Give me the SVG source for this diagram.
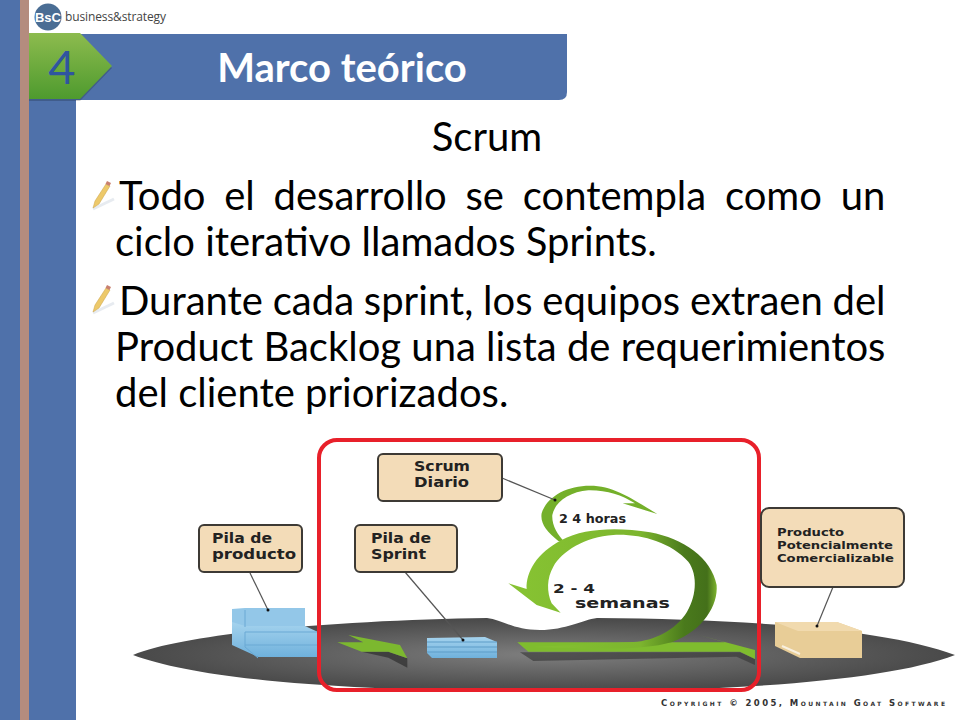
<svg xmlns="http://www.w3.org/2000/svg" width="960" height="720" viewBox="0 0 960 720">
<style>
.body{font-family:Lato,"Open Sans",sans-serif;font-size:40px;fill:#000}
.lbl{font-family:"DejaVu Sans",sans-serif;font-weight:bold;fill:#222}
.box{fill:#f3dcb8;stroke:#3d3a35;stroke-width:2}
.ln{stroke:#555;stroke-width:1.2;fill:none}
.dot{fill:#111}
</style>
<defs>
<linearGradient id="gg" x1="0" y1="0" x2="0" y2="1"><stop offset="0" stop-color="#8dbb4e"/><stop offset="1" stop-color="#4e9a2e"/></linearGradient>
<radialGradient id="floor" cx="0.5" cy="0.5" r="0.55"><stop offset="0" stop-color="#7e7e7e"/><stop offset=".7" stop-color="#555"/><stop offset="1" stop-color="#444"/></radialGradient>
<linearGradient id="big" gradientUnits="userSpaceOnUse" x1="620" y1="0" x2="1190" y2="0"><stop offset="0" stop-color="#86c232"/><stop offset="0.6" stop-color="#7cb52e"/><stop offset="0.83" stop-color="#4a7a1c"/><stop offset="0.95" stop-color="#44701a"/><stop offset="1" stop-color="#7db32f"/></linearGradient>
<linearGradient id="blue" x1="0" y1="0" x2="0" y2="1"><stop offset="0" stop-color="#a5d3ee"/><stop offset="1" stop-color="#6fb1dc"/></linearGradient>
<g id="pencil">
<path d="M1 28 L22 18" stroke="#dde3ea" stroke-width="3" opacity=".7" fill="none"/>
<path d="M1 27 L3 20 L14 3 L18 5 L7 23 Z" fill="#edc96a" stroke="#c9a047" stroke-width=".5"/>
<path d="M13.5 3 L15 0 L19 2 L17.5 5 Z" fill="#c9806f"/>
</g>
</defs>
<rect width="960" height="720" fill="#fff"/>
<g id="sidebar">
<rect x="0" y="0" width="20" height="720" fill="#4f71aa"/>
<rect x="20" y="0" width="9" height="720" fill="#b48c7e"/>
<rect x="29" y="0" width="47" height="720" fill="#4f71aa"/>
<rect x="29" y="0" width="146" height="33" fill="#fff"/>
</g>
<g id="logo">
<circle cx="48" cy="17" r="13.5" fill="#4a6d94"/>
<text x="48" y="22" text-anchor="middle" font-family="'Liberation Sans',sans-serif" font-size="13" font-weight="bold" fill="#fff">BsC</text>
<text x="65" y="21" font-family="'Open Sans',sans-serif" font-size="12" textLength="101" fill="#444">business&amp;strategy</text>
</g>
<g id="header">
<path d="M76 34H567V92Q567 100 559 100H76Z" fill="#4f71aa"/>
<text x="342" y="82" text-anchor="middle" font-family="Lato,sans-serif" font-weight="bold" font-size="40" fill="#fff">Marco teórico</text>
</g>
<g id="badge">
<path d="M29 35H80L112 68L80 101H29Z" fill="#000" opacity=".18"/>
<path d="M29 33H80L112 66L80 99H29Z" fill="url(#gg)"/>
<text x="62" y="84" text-anchor="middle" font-family="Lato,sans-serif" font-size="47" fill="#2f55a0">4</text>
</g>
<g id="content">
<text class="body" x="487" y="151" text-anchor="middle">Scrum</text>
<use href="#pencil" x="92" y="181"/>
<text class="body" x="119" y="210" word-spacing="8.5">Todo el desarrollo se contempla como un</text>
<text class="body" x="115" y="256">ciclo iterativo llamados Sprints.</text>
<use href="#pencil" x="92" y="285"/>
<text class="body" x="119" y="315" word-spacing="-.4">Durante cada sprint, los equipos extraen del</text>
<text class="body" x="115" y="361">Product Backlog una lista de requerimientos</text>
<text class="body" x="115" y="407">del cliente priorizados.</text>
</g>
<g id="scene">
<path d="M133 655 C190 632 350 620 487 618 C502 620 514 630 540 630 C566 630 582 620 597 618 C750 619 890 630 955 655 C890 680 740 692 545 691 C350 692 200 680 133 655Z" fill="url(#floor)"/>
</g>
<g id="arrows" transform="translate(320 435) scale(.3333)">
<path d="M55 640 L125 650 L205 668 L262 698 L262 670 L205 650 L125 650Z" fill="#2e2e2e" opacity=".7"/>
<path d="M52 622 L130 622 L85 600 L240 630 L262 670 L205 650 L125 650Z" fill="#7cb82f"/>
<path d="M600 652H1260L1305 672V690L1250 665L640 678Z" fill="#333" opacity=".6"/>
<path d="M592 622H1215L1135 600L1305 645V672L1260 650H625Z" fill="#7fbc2e"/>
<path d="M735 322 L715 318 C680 290 660 265 665 235 C680 185 740 152 810 152 C880 152 935 190 1012 237 L908 205 L945 205 C905 180 860 165 805 166 C750 170 705 200 697 240 C695 270 712 300 735 322Z" fill="#74b02a"/>
<path d="M640 636 C800 640 960 650 1060 620 C1150 585 1195 510 1190 450 C1175 370 1090 310 990 292 C890 275 790 280 725 315 C650 355 618 410 620 462 L565 445 L650 510 L722 533 L695 505 C680 470 680 430 700 395 C725 350 795 305 880 300 C960 296 1050 320 1105 380 C1135 420 1130 490 1095 540 C1055 595 990 620 930 622 Z" fill="url(#big)"/>
</g>
<g id="stack-product">
<path d="M232 609L245 608H305L305 626H232Z" fill="#93c7e8"/>
<path d="M232 622L245 626H305L318 632V657H258L232 645Z" fill="url(#blue)"/>
<path d="M245 610V627M245 632H318M245 645H318M245 632V647L258 658" stroke="#6aa9d4" stroke-width="1" fill="none"/>
</g>
<g id="stack-sprint">
<path d="M427 638L485 637L497 642V658H432L427 653Z" fill="url(#blue)"/>
<path d="M427 642H497M427 647H497M427 652H497" stroke="#5c9cc8" fill="none"/>
</g>
<g id="carton">
<path d="M775 622H837L862 631V658H800L775 646Z" fill="#e8cd97"/>
<path d="M775 622H837L862 631H798Z" fill="#f1daae"/>
<path d="M782 646L800 654" stroke="#fff" stroke-width="2" opacity=".7" fill="none"/>
</g>
<g id="frame">
<rect x="319" y="440" width="440" height="250" rx="18" fill="none" stroke="#e8202a" stroke-width="4"/>
</g>
<g id="connectors">
<path class="ln" d="M502 478L555 500"/><circle class="dot" cx="555" cy="500" r="1.5"/>
<path class="ln" d="M405 572L463 640"/><circle class="dot" cx="463" cy="640" r="1.5"/>
<path class="ln" d="M250 573L268 610"/><circle class="dot" cx="268" cy="610" r="1.5"/>
<path class="ln" d="M833 587L817 626"/><circle class="dot" cx="817" cy="626" r="1.5"/>
</g>
<g id="node-scrum-diario">
<rect class="box" x="378" y="454" width="124" height="47" rx="5"/>
<text class="lbl" x="414" y="471" font-size="14" textLength="56" lengthAdjust="spacingAndGlyphs">Scrum</text>
<text class="lbl" x="414" y="487" font-size="14" textLength="55" lengthAdjust="spacingAndGlyphs">Diario</text>
</g>
<g id="node-pila-sprint">
<rect class="box" x="355" y="525" width="102" height="47" rx="5"/>
<text class="lbl" x="371" y="543" font-size="14" textLength="60" lengthAdjust="spacingAndGlyphs">Pila de</text>
<text class="lbl" x="371" y="559" font-size="14" textLength="55" lengthAdjust="spacingAndGlyphs">Sprint</text>
</g>
<g id="node-pila-producto">
<rect class="box" x="199" y="525" width="103" height="47" rx="5"/>
<text class="lbl" x="212" y="543" font-size="14" textLength="60" lengthAdjust="spacingAndGlyphs">Pila de</text>
<text class="lbl" x="212" y="559" font-size="14" textLength="84" lengthAdjust="spacingAndGlyphs">producto</text>
</g>
<g id="node-producto">
<rect class="box" x="761" y="508" width="143" height="79" rx="8"/>
<text class="lbl" x="777" y="536" font-size="10.5" textLength="67" lengthAdjust="spacingAndGlyphs">Producto</text>
<text class="lbl" x="777" y="549" font-size="10.5" textLength="116" lengthAdjust="spacingAndGlyphs">Potencialmente</text>
<text class="lbl" x="777" y="562" font-size="10.5" textLength="117" lengthAdjust="spacingAndGlyphs">Comercializable</text>
</g>
<g id="labels">
<text class="lbl" x="559" y="523" font-size="11.5" textLength="67" lengthAdjust="spacingAndGlyphs">2 4 horas</text>
<text class="lbl" x="553" y="593" font-size="13" textLength="42" lengthAdjust="spacingAndGlyphs">2 - 4</text>
<text class="lbl" x="575" y="608" font-size="14" textLength="95" lengthAdjust="spacingAndGlyphs">semanas</text>
<text x="661" y="706" font-family="'DejaVu Sans',sans-serif" font-weight="bold" font-size="8.5" font-variant="small-caps" textLength="284" fill="#333">Copyright © 2005, Mountain Goat Software</text>
</g>
</svg>
